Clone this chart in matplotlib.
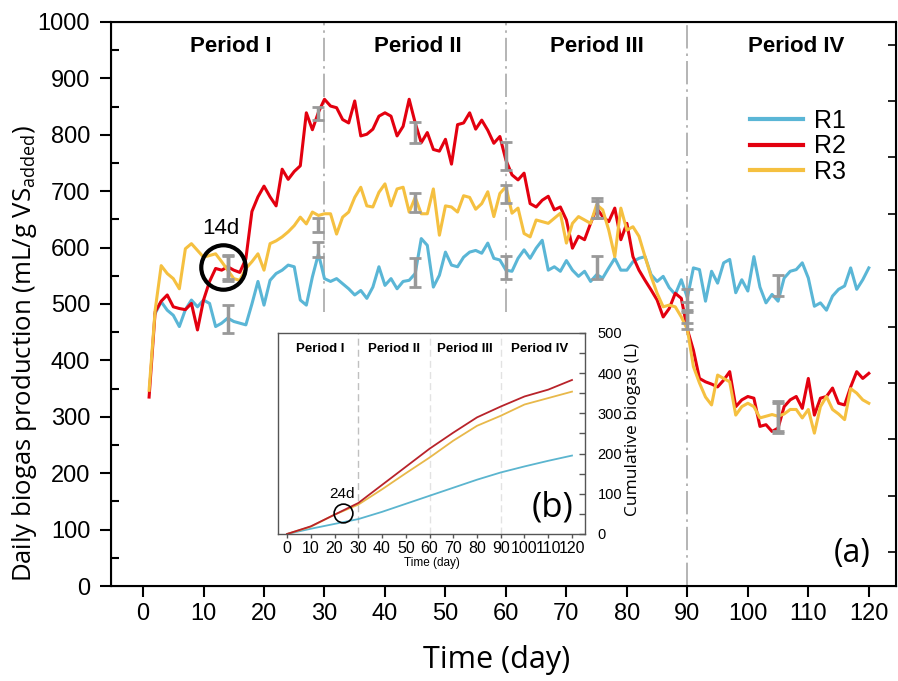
from matplotlib import pyplot as plt
from matplotlib.ticker import MultipleLocator
import numpy as np

plt.rcParams['font.family'] = ['Liberation Sans', 'DejaVu Sans']
plt.rcParams['mathtext.fontset'] = 'custom'
plt.rcParams['mathtext.rm'] = 'Open Sans'

# daily biogas production, mL/g VS added
days = list(range(1, 121))
r2 = [335, 486, 505, 516, 495, 492, 490, 501, 454, 507,
      540, 563, 560, 566, 560, 556, 580, 664, 690, 709,
      690, 674, 739, 721, 735, 745, 839, 809, 840, 863,
      851, 848, 827, 821, 860, 798, 801, 810, 833, 839,
      833, 798, 815, 863, 821, 786, 804, 774, 771, 792,
      748, 818, 821, 839, 810, 826, 808, 785, 797, 755,
      729, 720, 732, 678, 672, 684, 691, 667, 672, 649,
      599, 620, 614, 643, 670, 655, 646, 670, 614, 643,
      584, 560, 542, 525, 507, 477, 492, 519, 510, 455,
      418, 368, 362, 358, 353, 365, 380, 318, 330, 336,
      333, 283, 286, 274, 280, 318, 330, 336, 315, 368,
      303, 333, 336, 351, 324, 321, 353, 380, 368, 377]
r3 = [347, 489, 568, 554, 545, 527, 598, 607, 595, 583,
      586, 589, 575, 560, 545, 542, 563, 575, 589, 560,
      607, 612, 619, 628, 639, 654, 642, 663, 657, 660,
      660, 624, 654, 663, 689, 707, 674, 672, 698, 713,
      674, 704, 707, 663, 689, 660, 660, 704, 622, 674,
      672, 663, 692, 689, 668, 678, 699, 655, 696, 708,
      661, 670, 625, 619, 649, 646, 643, 652, 661, 608,
      643, 655, 649, 643, 676, 667, 631, 584, 670, 631,
      637, 620, 584, 549, 519, 495, 498, 495, 477, 455,
      389, 360, 335, 321, 374, 368, 362, 303, 318, 324,
      318, 298, 301, 304, 301, 305, 313, 313, 298, 313,
      271, 318, 336, 313, 305, 295, 350, 342, 330, 324]
r1_days = list(range(2, 121))
r1 = [483, 504, 489, 480, 460, 490, 507, 495, 507,
      501, 460, 466, 475, 469, 466, 463, 500, 540, 498,
      542, 554, 560, 569, 566, 507, 498, 548, 589, 545,
      540, 545, 536, 527, 516, 524, 510, 530, 566, 533,
      545, 527, 540, 542, 554, 616, 604, 530, 551, 592,
      569, 566, 583, 592, 595, 590, 608, 581, 578, 560,
      558, 581, 596, 581, 599, 613, 560, 566, 558, 577,
      560, 549, 558, 540, 552, 546, 564, 581, 560, 560,
      575, 581, 584, 552, 540, 549, 529, 517, 543, 511,
      564, 561, 505, 558, 537, 573, 579, 520, 543, 523,
      584, 530, 502, 517, 505, 546, 558, 561, 573, 546,
      496, 502, 489, 514, 526, 532, 564, 526, 543, 564]

# sampling days with standard deviation
err_days = [14, 29, 45, 60, 75, 90, 105]
r1_mean = [473, 597, 556, 565, 565, 508, 533]
r1_sd = [25, 13, 25, 20, 20, 18, 18]
r2_mean = [563, 838, 804, 763, 670, 485, 300]
r2_sd = [23, 12, 19, 25, 18, 18, 28]
r3_mean = [565, 640, 680, 695, 668, 470, 300]
r3_sd = [20, 12, 16, 16, 15, 15, 25]

# cumulative biogas (L) for the inset
cum_days = [0, 10, 20, 30, 40, 50, 60, 70, 80, 90, 100, 110, 120]
cum_r1 = [0, 13, 25, 37, 55, 75, 95, 115, 135, 153, 168, 182, 195]
cum_r2 = [0, 19, 48, 77, 122, 167, 212, 252, 290, 317, 342, 359, 383]
cum_r3 = [0, 18, 48, 73, 111, 151, 190, 232, 269, 294, 322, 338, 354]

periods = ['Period I', 'Period II', 'Period III', 'Period IV']
period_x = [14.5, 45.5, 75, 108]
inset_period_x = [14, 45, 75, 106.5]
boundaries = [30, 60, 90]

C1, C2, C3 = '#5ab6d6', '#e3000f', '#f5c040'
IC1, IC2, IC3 = '#5bb5cf', '#b8232a', '#e8b84a'


def main_panel(fig):
    ax = fig.add_axes([0.1236, 0.1395, 0.8742, 0.8282])
    for x in boundaries:
        lo = 0.0 if x == 90 else 0.485
        ax.axvline(x, ymin=lo, color='#a8a8a8', lw=1.2,
                   ls=(0, (14, 3, 1.5, 3)), zorder=1)

    l1, = ax.plot(r1_days, r1, color=C1, lw=2.2, zorder=2)
    l2, = ax.plot(days, r2, color=C2, lw=2.2, zorder=2)
    l3, = ax.plot(days, r3, color=C3, lw=2.2, zorder=2)

    for m, s in [(r1_mean, r1_sd), (r2_mean, r2_sd), (r3_mean, r3_sd)]:
        ax.errorbar(err_days, m, yerr=s, fmt='none', ecolor='#999999',
                    elinewidth=2.5, capsize=4, capthick=2, zorder=3)

    ax.set_xlim(-5.3, 124.5)
    ax.set_ylim(0, 1000)
    ax.set_xticks(range(0, 121, 10))
    ax.yaxis.set_major_locator(MultipleLocator(100))
    ax.yaxis.set_minor_locator(MultipleLocator(50))
    ax.tick_params(axis='x', direction='out', length=8, width=1.5,
                   labelsize=17, pad=4)
    ax.tick_params(axis='y', which='major', direction='out', length=8,
                   width=1.5, labelsize=17, pad=7)
    ax.tick_params(axis='y', which='minor', direction='in', length=6,
                   width=1.5)
    for sp in ax.spines.values():
        sp.set_linewidth(1.5)

    # right spine has its own inward ticks, offset from the left ones
    axr = ax.twinx()
    axr.set_ylim(0, 1000)
    axr.set_yticks(np.arange(60, 1000, 100))
    axr.tick_params(axis='y', direction='in', length=6, width=1.2,
                    labelright=False)

    for name, x in zip(periods, period_x):
        ax.text(x, 956, name, ha='center', va='center', fontsize=16,
                fontweight='bold')

    ax.legend([l1, l2, l3], ['R1', 'R2', 'R3'], loc='upper left',
              bbox_to_anchor=(0.814, 0.846), frameon=False, fontsize=18,
              handlelength=2.1, labelspacing=0.06, handletextpad=0.45,
              borderpad=0, borderaxespad=0)
    for h in ax.get_legend().get_lines():
        h.set_linewidth(3)

    ax.plot([13.2], [566], 'o', ms=32, mfc='none', mec='k', mew=3, zorder=4)
    ax.text(12.8, 633, '14d', ha='center', va='center', fontsize=16)
    ax.text(117.3, 58, '(a)', ha='center', va='center', fontsize=23,
            family='Open Sans')
    return ax


def inset_panel(fig):
    axi = fig.add_axes([0.3096, 0.2159, 0.3419, 0.2952])
    axi.set_facecolor('white')
    axi.axvline(30, color='#c0c0c0', lw=1, ls=(0, (5, 3)))
    for x in boundaries[1:]:
        axi.axvline(x, color='#e2e2e2', lw=1, ls=(0, (5, 3)))

    axi.plot(cum_days, cum_r1, color=IC1, lw=1.3)
    axi.plot(cum_days, cum_r3, color=IC3, lw=1.3)
    axi.plot(cum_days, cum_r2, color=IC2, lw=1.3)

    axi.set_xlim(-3.8, 125.5)
    axi.set_ylim(0, 500)
    axi.set_xticks(range(0, 121, 10))
    axi.yaxis.tick_right()
    axi.yaxis.set_major_locator(MultipleLocator(100))
    axi.yaxis.set_minor_locator(MultipleLocator(50))
    axi.tick_params(axis='x', direction='out', length=3, width=1,
                    color='#555555', labelsize=11.5, pad=2)
    axi.tick_params(axis='y', which='both', direction='in', length=4,
                    width=1, color='#555555', labelsize=10.5, pad=9)
    for sp in axi.spines.values():
        sp.set_linewidth(1)
        sp.set_color('#555555')
    axi.set_xlabel('Time (day)', fontsize=8.5, labelpad=1)

    for name, x in zip(periods, inset_period_x):
        axi.text(x, 460, name, ha='center', va='center', fontsize=9.5,
                 fontweight='bold')

    axi.plot([23.4], [53], 'o', ms=13.5, mfc='none', mec='k', mew=1.2)
    axi.text(23, 99, '24d', ha='center', va='center', fontsize=11)
    axi.text(112, 67, '(b)', ha='center', va='center', fontsize=25,
             family='Open Sans')
    return axi


def main():
    fig = plt.figure(figsize=(8.98, 6.81), dpi=100)
    main_panel(fig)
    inset_panel(fig)
    fig.text(25 / 898, 1 - 353 / 681,
             'Daily biogas production (mL/g VS$_{\\mathrm{added}}$)',
             rotation=90, ha='center', va='center', fontsize=18.5,
             family='Open Sans')
    fig.text(497 / 898, 1 - 660 / 681, 'Time (day)', ha='center',
             va='center', fontsize=22, family='Open Sans')
    fig.text(633 / 898, 1 - 429 / 681, 'Cumulative biogas (L)',
             rotation=90, ha='center', va='center', fontsize=12.5,
             family='Open Sans')
    fig.savefig('out.png', dpi=100)


if __name__ == "__main__":
    main()
